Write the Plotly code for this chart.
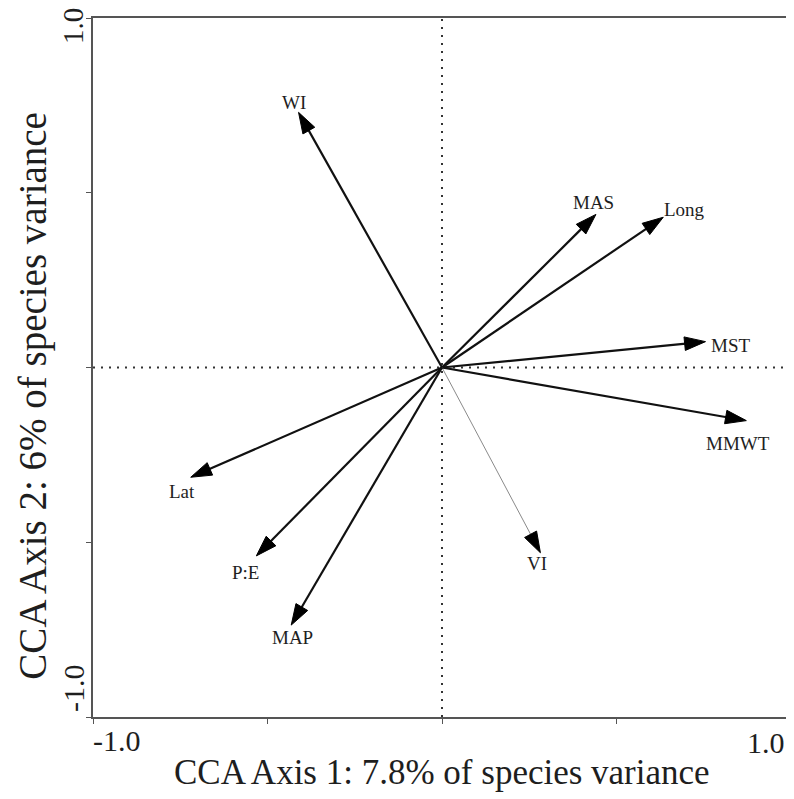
import plotly.graph_objects as go

# Biplot arrow tips (CCA axis 1, CCA axis 2)
variables = ["WI", "MAS", "Long", "MST", "MMWT", "VI", "Lat", "P:E", "MAP"]
axis1 = [-0.411, 0.441, 0.634, 0.755, 0.872, 0.282, -0.720, -0.532, -0.432]
axis2 = [0.730, 0.438, 0.430, 0.074, -0.152, -0.530, -0.314, -0.539, -0.737]

# label anchor positions (data units)
label_x = [-0.423, 0.434, 0.696, 0.827, 0.849, 0.271, -0.746, -0.563, -0.429]
label_y = [0.758, 0.473, 0.451, 0.063, -0.217, -0.560, -0.355, -0.587, -0.772]

# which arrows are drawn thin
thin = ["VI"]

x_tick_labels = ["-1.0", "1.0"]
y_tick_labels = ["-1.0", "1.0"]
x_title = "CCA Axis 1: 7.8% of species variance"
y_title = "CCA Axis 2: 6% of species variance"

SERIF = "Liberation Serif, Times New Roman, serif"
TXT = "#1e1e1e"

fig = go.Figure()

for name, xv, yv in zip(variables, axis1, axis2):
    is_thin = name in thin
    fig.add_trace(go.Scatter(
        x=[0, xv], y=[0, yv],
        mode="lines+markers",
        line=dict(color="#8a8a8a" if is_thin else "#111111", width=1 if is_thin else 2.2),
        marker=dict(symbol=["circle", "arrow"], size=[0, 22], angleref="previous",
                    color="#000000", opacity=1, line=dict(width=1, color="#000000")),
        hoverinfo="skip",
        showlegend=False,
    ))

annotations = []
for name, lx, ly in zip(variables, label_x, label_y):
    annotations.append(dict(x=lx, y=ly, xref="x", yref="y", text=name, showarrow=False,
                            xanchor="center", yanchor="middle",
                            font=dict(family=SERIF, size=19, color=TXT)))

# axis end labels
annotations += [
    dict(x=0.0343, y=-0.0343, xref="paper", yref="paper", text=x_tick_labels[0], showarrow=False,
         xanchor="center", yanchor="middle", font=dict(family=SERIF, size=30, color=TXT)),
    dict(x=0.964, y=-0.0358, xref="paper", yref="paper", text=x_tick_labels[1], showarrow=False,
         xanchor="center", yanchor="middle", font=dict(family=SERIF, size=30, color=TXT)),
    dict(x=-0.0271, y=0.0415, xref="paper", yref="paper", text=y_tick_labels[0], showarrow=False,
         textangle=-90, xanchor="center", yanchor="middle",
         font=dict(family=SERIF, size=30, color=TXT)),
    dict(x=-0.0286, y=0.9885, xref="paper", yref="paper", text=y_tick_labels[1], showarrow=False,
         textangle=-90, xanchor="center", yanchor="middle",
         font=dict(family=SERIF, size=29, color=TXT)),
    dict(x=0.5, y=-0.0787, xref="paper", yref="paper", text=x_title, showarrow=False,
         xanchor="center", yanchor="middle", font=dict(family=SERIF, size=35, color=TXT)),
    dict(x=-0.0857, y=0.46, xref="paper", yref="paper", text=y_title, showarrow=False,
         textangle=-90, xanchor="center", yanchor="middle",
         font=dict(family=SERIF, size=39, color=TXT)),
]

shapes = [
    dict(type="line", xref="x", yref="y", x0=0, x1=0, y0=-1, y1=1,
         line=dict(color="#333333", width=2, dash="2px,6px"), layer="below"),
    dict(type="line", xref="x", yref="y", x0=-1, x1=1, y0=0, y1=0,
         line=dict(color="#333333", width=2, dash="2px,6px"), layer="below"),
]

axis_common = dict(
    range=[-1, 1], showgrid=False, zeroline=False, showline=True, mirror=True,
    linecolor="#555555", linewidth=1.6, ticks="outside", ticklen=5, tickwidth=1.2,
    tickcolor="#555555", tickvals=[-1, -0.5, 0, 0.5, 1], showticklabels=False,
    fixedrange=True,
)

# page body has an 8px margin, so the figure is sized/offset to compensate
fig.update_layout(
    width=786, height=791,
    margin=dict(l=85, r=1, t=10, b=82),
    paper_bgcolor="white", plot_bgcolor="white",
    xaxis=axis_common, yaxis=axis_common,
    annotations=annotations, shapes=shapes,
    showlegend=False,
)

fig.write_html("out.html")
